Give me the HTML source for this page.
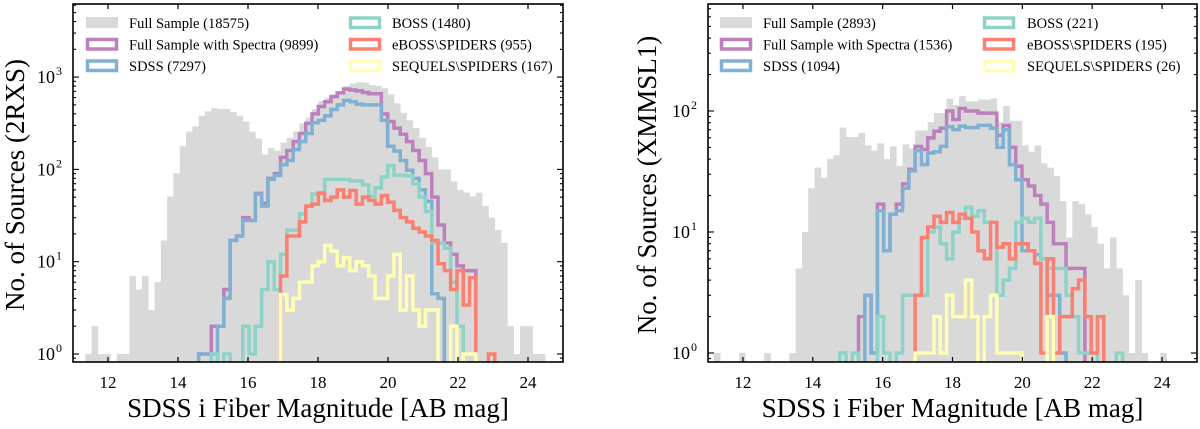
<!DOCTYPE html>
<html><head><meta charset="utf-8">
<style>
html,body{margin:0;padding:0;background:#fff;}
svg{display:block;font-family:"Liberation Serif",serif;}
</style></head>
<body>
<svg id="fig" width="1200" height="429" viewBox="0 0 1200 429" xmlns="http://www.w3.org/2000/svg"></svg>
<script>
// ---- data (bin counts) ----
const leftBinStart = 11.35;
const rightBinStart = 11.17;
const binWidth = 0.18;
const xTickLabels = [12,14,16,18,20,22,24];
const seriesNames = ["full","spectra","sdss","boss","eboss","sequels"];
const seriesColors = ["#d9d9d9","#bc80bd","#80b1d3","#8dd3c7","#fb8072","#ffffb3"];
const leftLegend = ["Full Sample (18575)","Full Sample with Spectra (9899)","SDSS (7297)","BOSS (1480)","eBOSS\\SPIDERS (955)","SEQUELS\\SPIDERS (167)"];
const rightLegend = ["Full Sample (2893)","Full Sample with Spectra (1536)","SDSS (1094)","BOSS (221)","eBOSS\\SPIDERS (195)","SEQUELS\\SPIDERS (26)"];

const leftFull = [1,2,1,1,0,1,1,7,5,7,3,6,17,51,91,178,257,292,380,425,460,450,450,420,380,330,257,215,145,170,160,195,220,257,315,365,450,550,600,650,700,800,850,880,870,820,800,760,650,520,410,340,280,220,175,135,100,100,74,60,56,51,56,40,30,22,16,2,1,2,2,1,1];
const leftSpectra = [0,0,0,0,0,0,0,0,0,0,0,0,0,0,0,0,0,0,1,1,2,2,5,17,19,30,28,55,43,80,90,135,160,200,245,315,400,480,540,615,675,740,725,710,680,660,660,400,330,280,240,200,160,125,90,50,25,16,12,9,8,8];
const leftSdss = [0,0,0,0,0,0,0,0,0,0,0,0,0,0,0,0,0,0,1,1,0,2,4,17,19,28,28,54,40,78,86,112,125,164,200,245,320,340,380,445,500,560,540,510,500,500,500,340,178,158,125,98,80,60,45,4.5,4];
const leftBoss = [0,0,0,0,0,0,0,0,0,0,0,0,0,0,0,0,0,0,0,0,1,0,1,0,0,2,1,2,5,10,5,12,22,22,33,40,54,56,78,78,78,78,75,75,68,51,63,83,110,87,87,85,70,50,35,16,16,14,6,2];
const leftEboss = [0,0,0,0,0,0,0,0,0,0,0,0,0,0,0,0,0,0,0,0,0,0,0,0,0,0,0,0,0,0,0,7,19,19,27,40,42,55,46,50,60,50,59,42,50,46,42,52,44,36,30,27,23,21,19,17,9.5,8,5,8,3.4,6.7,0,0,1];
const leftSequels = [0,0,0,0,0,0,0,0,0,0,0,0,0,0,0,0,0,0,0,0,0,0,0,0,0,0,0,0,0,0,0,4.4,3,4,6,6,9,10,15,13,9,11,8,10,9,7,4,4,7,12,3,7,3,2,3,3,0,0,2,0,1,1];

const rightFull = [1,0,0,0,1,0,0,0,1,0,0,0,1,5,10,23,34,28,40,43,73,61,61,66,52,47,54,40,51,35,53,49,69,69,81,96,96,126,112,133,120,120,124,124,127,81,110,83,83,52,46,52,37,34,29,18,9,18,17,14,11,8,5,9,5,3,1,4,1,0,0,1];
const rightSpectra = [0,0,0,0,0,0,0,0,0,0,0,0,0,0,0,0,0,0,0,0,0,0,0,2,3,1,17,7,14,17,25,33,51,48,60,68,72,100,85,105,100,100,96,96,96,63,76,50,35,27,24,20,17,12,8,8,5,5,5];
const rightSdss = [0,0,0,0,0,0,0,0,0,0,0,0,0,0,0,0,0,0,0,0,0,0,0,0,3,1,15,7,14,15,23,32,47,36,45,46,51,74,70,75,73,73,76,76,72,50,70,36,27,7,7,6.5,6,3,3,1];
const rightBoss = [0,0,0,0,0,0,0,0,0,0,0,0,0,0,0,0,0,0,0,0,1,0,1,0,0,0,2,1,0,1,3,3,3,3,10,11,8,6,10,13,16,13.5,15,12,12,3,4,5,12,13,12,13,6,5,5,5,3,2,1,1,1,0,0,0,1];
const rightEboss = [0,0,0,0,0,0,0,0,0,0,0,0,0,0,0,0,0,0,0,0,0,0,0,0,0,0,0,0,0,0,0,0,3,9,11,13.5,12,14.5,12,14,13,10,7,6,12,7.5,8,6,8,8,7,5.5,1,6,1,2,2,3.4,4,2,1,2];
const rightSequels = [0,0,0,0,0,0,0,0,0,0,0,0,0,0,0,0,0,0,0,0,0,0,0,0,0,0,0,0,0,0,0,0,1,1,1,2,1,3,2,2,4,2,0,2,3,1,1,1,1,0,0,0,0,2];

const NS = "http://www.w3.org/2000/svg";
const svg = document.getElementById("fig");
function el(tag, attrs, parent){
  const e = document.createElementNS(NS, tag);
  for (const k in attrs) e.setAttribute(k, attrs[k]);
  (parent||svg).appendChild(e);
  return e;
}

function drawPanel(cfg){
  const g = el("g", {});
  
  
  const X = v => cfg.px0 + (v - 11) / 14 * (cfg.px1 - cfg.px0);
  const Y = v => cfg.py1 - (Math.log10(v) - cfg.lmin) / (cfg.lmax - cfg.lmin) * (cfg.py1 - cfg.py0);
  const clipId = cfg.name + "-clip";
  const defs = el("defs", {}, g);
  const cp = el("clipPath", {id: clipId}, defs);
  el("rect", {x: cfg.px0, y: cfg.py0, width: cfg.px1 - cfg.px0, height: cfg.py1 - cfg.py0}, cp);
  const plot = el("g", {"clip-path": "url(#" + clipId + ")"}, g);

  const full = cfg.series[0];
  const fillG = el("g", {}, plot);
  
  
  full.forEach((v, i) => {
    if (v <= 0) return;
    const x0 = X(cfg.start + i * binWidth), x1 = X(cfg.start + (i + 1) * binWidth);
    const r = el("rect", {x: x0, y: Y(v), width: x1 - x0 + 0.3, height: cfg.py1 - Y(v) + 2, fill: seriesColors[0]}, fillG);
    
    
  });

  for (let s = 1; s < cfg.series.length; s++) {
    const arr = cfg.series[s];
    let first = arr.findIndex(v => v > 0);
    let last = arr.length - 1; while (last >= 0 && !(arr[last] > 0)) last--;
    if (first < 0) continue;
    const low = cfg.py1 + 10;
    let d = "M" + X(cfg.start + first * binWidth) + " " + low;
    for (let i = first; i <= last; i++) {
      const yv = arr[i] > 0 ? Y(arr[i]) : low;
      d += " L" + X(cfg.start + i * binWidth) + " " + yv + " L" + X(cfg.start + (i + 1) * binWidth) + " " + yv;
    }
    d += " L" + X(cfg.start + (last + 1) * binWidth) + " " + low;
    const p = el("path", {d: d, fill: "none", stroke: seriesColors[s], "stroke-width": 3.5, "stroke-linejoin": "miter"}, plot);
    
    
  }

  const fr = el("rect", {x: cfg.px0, y: cfg.py0, width: cfg.px1 - cfg.px0, height: cfg.py1 - cfg.py0, fill: "none", stroke: "#000", "stroke-width": 1.6}, g);
  
  

  xTickLabels.forEach(t => {
    const x = X(t);
    el("line", {x1: x, x2: x, y1: cfg.py1, y2: cfg.py1 - 5, stroke: "#000", "stroke-width": 1.2}, g);
    el("line", {x1: x, x2: x, y1: cfg.py0, y2: cfg.py0 + 5, stroke: "#000", "stroke-width": 1.2}, g);
    const tx = el("text", {x: x, y: 388, "font-size": 17, "text-anchor": "middle", fill: "#000"}, g);
    tx.textContent = String(t);
    
    
  });
  for (let k = -1; k <= 4; k++) {
    for (let m = 1; m <= 9; m++) {
      const v = m * Math.pow(10, k);
      const lv = Math.log10(v);
      if (lv < cfg.lmin || lv > cfg.lmax) continue;
      const y = Y(v);
      const len = m === 1 ? 6 : 3;
      el("line", {x1: cfg.px0, x2: cfg.px0 + len, y1: y, y2: y, stroke: "#000", "stroke-width": 1.1}, g);
      el("line", {x1: cfg.px1, x2: cfg.px1 - len, y1: y, y2: y, stroke: "#000", "stroke-width": 1.1}, g);
      if (m === 1) {
        const tx = el("text", {x: cfg.px0 - 18, y: y + 6, "font-size": 18, "text-anchor": "end", fill: "#000"}, g);
        tx.textContent = "10";
        
        
        const sup = el("text", {x: cfg.px0 - 17, y: y - 2, "font-size": 12, fill: "#000"}, g);
        sup.textContent = String(k);
        
        
      }
    }
  }
  const xt = el("text", {x: (cfg.px0 + cfg.px1) / 2, y: 417, "font-size": 27, "text-anchor": "middle", fill: "#000"}, g);
  xt.textContent = "SDSS i Fiber Magnitude [AB mag]";
  
  
  const yt = el("text", {x: 0, y: 0, "font-size": 27, "text-anchor": "middle", fill: "#000", transform: "translate(" + cfg.ytx + ",185) rotate(-90)"}, g);
  yt.textContent = cfg.ytitle;
  
  

  const lg = el("g", {}, g);
  
  
  const rows = [23, 44.5, 66];
  cfg.legend.forEach((label, i) => {
    const col = i < 3 ? 0 : 1;
    const ry = rows[i % 3];
    const sx = cfg.legX[col], txx = cfg.legT[col];
    const ent = el("g", {}, lg);
    
    
    if (i === 0) el("rect", {x: sx, y: ry - 6, width: 32, height: 11, fill: seriesColors[0]}, ent);
    else el("rect", {x: sx + 1.5, y: ry - 5, width: 29, height: 9.5, fill: "none", stroke: seriesColors[i], "stroke-width": 3.5}, ent);
    const t = el("text", {x: txx, y: ry + 5, "font-size": 14.5, fill: "#000"}, ent);
    t.textContent = label;
  });
}

drawPanel({name: "left-panel", px0: 73, px1: 563, py0: 4, py1: 362, lmin: -0.0867, lmax: 3.792,
  start: leftBinStart, series: [leftFull, leftSpectra, leftSdss, leftBoss, leftEboss, leftSequels],
  ytitle: "No. of Sources (2RXS)", ytx: 24, legend: leftLegend, legX: [86, 349], legT: [129, 392]});
drawPanel({name: "right-panel", px0: 708, px1: 1197, py0: 4, py1: 362, lmin: -0.0744, lmax: 2.884,
  start: rightBinStart, series: [rightFull, rightSpectra, rightSdss, rightBoss, rightEboss, rightSequels],
  ytitle: "No. of Sources (XMMSL1)", ytx: 656, legend: rightLegend, legX: [720, 983], legT: [763, 1027]});
</script>
</body></html>
